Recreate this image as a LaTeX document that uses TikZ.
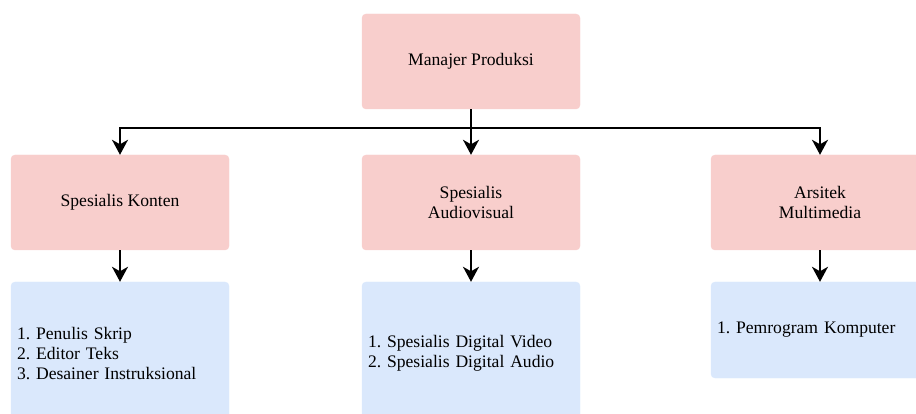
\documentclass[tikz,border=0pt]{standalone}
\usepackage{fontspec}
\setmainfont{Liberation Serif}
\usetikzlibrary{arrows.meta}
\frenchspacing
\definecolor{pinkfill}{HTML}{F8CECC}
\definecolor{bluefill}{HTML}{DAE8FC}
\tikzset{
  rolebox/.style={rectangle, rounded corners=4pt, fill=pinkfill, draw=pinkfill,
    minimum width=218pt, minimum height=95pt, align=center, inner sep=0pt,
    font=\fontsize{17.6pt}{20.8pt}\selectfont},
  listbox/.style={rectangle, rounded corners=4pt, fill=bluefill, draw=bluefill,
    minimum width=218pt, text width=206pt, inner xsep=6pt, inner ysep=0pt, align=left,
    font=\fontsize{17.6pt}{20.3pt}\selectfont},
  conn/.style={line width=2pt, -{Stealth[length=15pt,width=16pt,inset=4.5pt]}}
}
\begin{document}
\begin{tikzpicture}[x=1pt,y=-1pt]
\useasboundingbox (0,0) rectangle (916,414);
\clip (0,0) rectangle (916,414);
\node[rolebox] (mp) at (471,61.5) {Manajer Produksi};
\node[rolebox] (sk) at (120,202.5) {Spesialis Konten};
\node[rolebox] (sa) at (471,202.5) {Spesialis\\Audiovisual};
\node[rolebox] (am) at (820,202.5) {Arsitek\\Multimedia};
\node[listbox, minimum height=143pt] (lk) at (120,353.5) {1. Penulis Skrip\\2. Editor Teks\\3. Desainer Instruksional};
\node[listbox, minimum height=143pt] (la) at (471,353.5) {1. Spesialis Digital Video\\2. Spesialis Digital Audio};
\node[listbox, minimum height=96pt] (lm) at (820,330) {1. Pemrogram Komputer};
\coordinate (j) at (471,128);
\draw[conn] (mp.south) -- (j) -| (sk.north);
\draw[conn] (mp.south) -- (j) -| (am.north);
\draw[conn] (mp.south) -- (sa.north);
\draw[conn] (sk.south) -- (lk.north);
\draw[conn] (sa.south) -- (la.north);
\draw[conn] (am.south) -- (lm.north);
\end{tikzpicture}
\end{document}
